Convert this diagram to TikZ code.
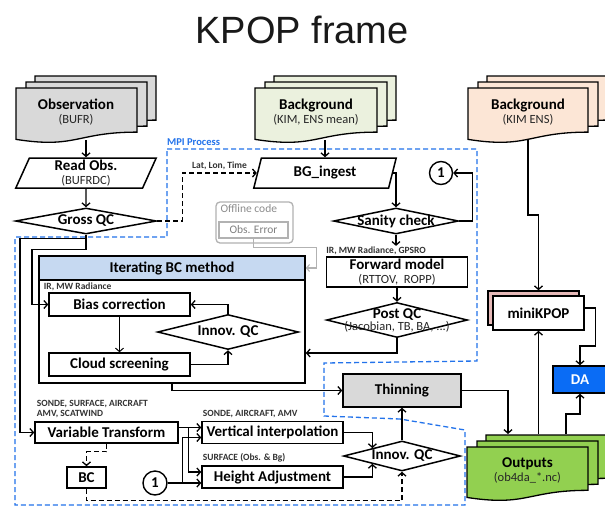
\documentclass[tikz,border=0pt]{standalone}
\usepackage{fontspec}
\setmainfont{Carlito}
\newfontfamily\titlefont{Liberation Sans}
\usetikzlibrary{shapes,arrows,arrows.meta,positioning}
\definecolor{obsgray}{RGB}{217,217,217}
\definecolor{bggreen}{RGB}{235,241,222}
\definecolor{enspeach}{RGB}{252,230,214}
\definecolor{outgreen}{RGB}{146,208,80}
\definecolor{headblue}{RGB}{198,217,241}
\definecolor{dablue}{RGB}{10,108,245}
\definecolor{mpiblue}{RGB}{35,115,235}
\definecolor{minipink}{RGB}{230,185,184}

\newcommand{\boxtxt}{\fontsize{15}{14}\selectfont\bfseries}
\newcommand{\subtxt}{\fontsize{12.5}{13}\selectfont\mdseries\color{black!85}}
\newcommand{\lbltxt}{\fontsize{9.5}{10}\selectfont\bfseries}
% stack of three file sheets: x, y, width, height, fill
\newcommand{\filestack}[5]{%
  \foreach \dx/\dy in {19/-12,10/-6,0/0}{%
    \filldraw[fill=#5,line width=1.3pt]
      ({#1+\dx},{#2+\dy}) -- ++(#3,0) -- ++(0,{0.802*#4})
      .. controls ({#1+\dx+0.5*#3},{#2+\dy+0.802*#4}) and ({#1+\dx+0.5*#3},{#2+\dy+1.107*#4}) .. ({#1+\dx},{#2+\dy+0.934*#4}) -- cycle;
  }}

\tikzset{
  box/.style={draw, line width=1.5pt, fill=white, inner sep=0pt, font=\boxtxt, align=center},
  slantbox/.style={box, trapezium, trapezium left angle=74, trapezium right angle=106, minimum height=30pt, trapezium stretches=true},
  qcdiamond/.style={draw, diamond, line width=1.5pt, fill=white, inner sep=0pt},
  numcircle/.style={draw, circle, line width=1.4pt, fill=white, minimum size=23pt, inner sep=0pt, font=\boxtxt},
  tagtxt/.style={font=\lbltxt, text=black!80, inner sep=0.5pt, align=left},
  conn/.style={line width=1.3pt, -{Straight Barb[length=3.5pt,width=8pt]}},
  dconn/.style={conn, dash pattern=on 5pt off 3pt},
  every label/.style={font=\boxtxt, align=center},
}

\begin{document}
\begin{tikzpicture}[x=1pt,y=-1pt]
\useasboundingbox[fill=white] (0,0) rectangle (605,507);
% Title
\node[font=\titlefont\fontsize{38}{40}\selectfont, text=black!90] (title) at (302,30) {KPOP frame};

% Input files
\filestack{16}{88}{121}{55}{obsgray}
\filestack{255}{88}{122}{55}{bggreen}
\filestack{468}{88}{120}{55}{enspeach}
\node[font=\boxtxt, align=center] (obs) at (76,112) {Observation\\{\subtxt (BUFR)}};
\node[font=\boxtxt, align=center] (bgfile) at (316,112) {Background\\{\subtxt (KIM, ENS mean)}};
\node[font=\boxtxt, align=center] (ensfile) at (528,112) {Background\\{\subtxt (KIM ENS)}};

% MPI region
\draw[mpiblue, line width=1.3pt, dash pattern=on 5pt off 3pt] (167,149) -- (477,149) -- (477,361) -- (324,363) -- (324,416) -- (400,419) -- (465,430) -- (465,505) -- (15,505) -- (15,237) -- (167,237) -- cycle;
\node[anchor=south west, font=\fontsize{10.5}{11}\selectfont\bfseries, text=mpiblue, inner sep=1pt] (mpilab) at (166,147) {MPI Process};

% Observation side
\node[slantbox, minimum width=141pt] (readobs) at (86,173) {Read Obs.\\{\subtxt (BUFRDC)}};
\node[qcdiamond, minimum width=141pt, minimum height=26pt, label=center:Gross QC] (grossqc) at (86,221) {};

% Background side
\node[slantbox, minimum width=143pt] (bgingest) at (325,173) {BG\_ingest};
\node[qcdiamond, minimum width=125pt, minimum height=26pt, label=center:Sanity check] (sanity) at (396,221) {};
\node[numcircle] (loopa) at (441,173) {1};
\node[box, minimum width=141pt, minimum height=30pt] (fwd) at (397,272) {Forward model\\{\subtxt (RTTOV,~~ROPP)}};
\node[tagtxt, above right=1pt and 0pt of fwd.north west] (fwdtag) {IR, MW Radiance, GPSRO};
\node[qcdiamond, minimum width=141pt, minimum height=35pt, label={center:{Post QC\\[-2pt]{\subtxt (Jacobian, TB, BA, ...)}}}] (postqc) at (397,320) {};

% Offline code
\node[draw=gray!60, rounded corners=4pt, line width=1.3pt, minimum width=77pt, minimum height=41pt] (offline) at (254.5,222.5) {};
\node[anchor=north west, inner sep=0pt, text=gray!90, font=\fontsize{11.5}{12}\selectfont] (offtxt) at ([shift={(5pt,-3pt)}]offline.north west) {Offline code};
\node[draw=gray!60, line width=1.3pt, minimum width=69pt, minimum height=16pt, inner sep=0pt, text=gray, font=\fontsize{11.5}{12}\selectfont] (obserr) at (253.5,230) {Obs. Error};

% Iterating BC block
\node[draw, line width=1.6pt, fill=white, minimum width=266pt, minimum height=127pt] (iterbox) at (172,319.5) {};
\node[draw, line width=1.6pt, fill=headblue, minimum width=266pt, minimum height=24pt, inner sep=0pt, font=\boxtxt] (iterhead) at (172,268) {Iterating BC method};
\node[tagtxt, below right=1pt and 5pt of iterhead.south west] (itertag) {IR, MW Radiance};
\node[box, minimum width=141pt, minimum height=23pt] (bias) at (119.5,304.5) {Bias correction};
\node[box, minimum width=141pt, minimum height=23pt] (cloud) at (119.5,364.5) {Cloud screening};
\node[qcdiamond, minimum width=141pt, minimum height=35pt, label=center:Innov. QC] (innova) at (228,332) {};

% Lower part
\node[box, fill=obsgray, minimum width=118pt, minimum height=33pt] (thin) at (402,390.5) {Thinning};
\node[box, minimum width=143pt, minimum height=21pt] (vartr) at (106.5,432.5) {Variable Transform};
\node[tagtxt, above right=3pt and 2pt of vartr.north west] (vartag) {SONDE, SURFACE, AIRCRAFT\\AMV, SCATWIND};
\node[box, minimum width=141pt, minimum height=22pt] (vint) at (272.5,432.5) {Vertical interpolation};
\node[tagtxt, above right=2pt and 1pt of vint.north west] (vinttag) {SONDE, AIRCRAFT, AMV};
\node[box, minimum width=141pt, minimum height=22pt] (hadj) at (272.5,477) {Height Adjustment};
\node[tagtxt, above right=2pt and 1pt of hadj.north west] (hadjtag) {SURFACE (Obs. \& Bg)};
\node[box, minimum width=39pt, minimum height=21pt] (bc) at (86.5,477.5) {BC};
\node[numcircle, minimum size=24pt] (loopb) at (155,483) {1};
\node[qcdiamond, minimum width=117pt, minimum height=30pt, label=center:Innov. QC] (innovb) at (402,456) {};

% Right column
\node[box, fill=minipink, minimum width=91pt, minimum height=34pt] (miniback) at (533.5,308) {};
\node[box, minimum width=91pt, minimum height=34pt] (mini) at (538.5,313) {miniKPOP};
\node[box, fill=dablue, text=white, minimum width=54pt, minimum height=27pt] (da) at (580,379.5) {DA};
\filestack{467}{447}{121}{54}{outgreen}
\node[font=\boxtxt, align=center] (outfile) at (527.5,470.5) {Outputs\\{\subtxt (ob4da\_*.nc)}};

% file ends
\coordinate (obsbot) at (86,140);
\coordinate (bgbot) at (325,140);
\coordinate (ensbot) at (528,140);
\coordinate (outtop) at (508,434);

% Connectors
\draw[conn] (obsbot) -- (readobs);
\draw[conn] (readobs) -- (grossqc);
\draw[dconn] (grossqc.east) -- ++(25,0) |- (bgingest) node[pos=0.75, above, yshift=2pt, tagtxt] (lltag) {Lat, Lon, Time};
\draw[conn] (bgbot) -- (bgingest);
\draw[conn] (bgingest.east) -| (sanity.north);
\draw[conn] (sanity.east) -- ++(13,0) |- (loopa);
\draw[conn] (sanity.south) -- (sanity.south |- fwdtag.north);
\draw[conn] (fwd) -- (postqc);
\draw[conn] (postqc.south) |- ([yshift=-33.5pt]iterbox.east);
\draw[gray!60, line width=1.1pt, -{Straight Barb[length=3pt,width=7pt]}] (obserr.south) -- ++(0,9) -- ++(63,0) |- (iterhead.east);
\draw[conn] (grossqc.south) -- ++(0,4) -- ++(-66,0) |- (vartr.west);
\draw[conn] (grossqc.south) -- ++(0,15) -- ++(-54,0) |- (bias.west);
\draw[conn, line width=1pt] (bias) -- (cloud);
\draw[conn] (cloud.east) -| (innova.south);
\draw[conn] (innova.north) |- (bias.east);
\draw[conn] (iterbox.south) |- (thin.west);
\draw[conn] (thin.east) -| (outtop);
\draw[conn] (innovb) -- (thin);
\draw[conn] ([yshift=5pt]vartr.east) -- ([yshift=5pt]vint.west);
\draw[conn] ([yshift=5pt]vartr.east) -- ++(10,0) |- ([yshift=5pt]hadj.west);
\draw[conn] (loopb.east) -- ([yshift=-6pt]hadj.west);
\draw[conn] (loopb.east) -- ++(15,0) |- ([yshift=-5pt]vint.west);
\draw[dconn] (vartr.south) -- ++(0,8) -| (bc.north);
\draw[dconn] (bc.south) -- ++(0,12) -| (innovb.south);
\draw[conn] (vint.east) -| (innovb.north west);
\draw[conn] (hadj.east) -| (innovb.south west);
\draw[conn] (ensbot) -- ++(0,75) -| (mini.north |- miniback.north);
\draw[conn] (mini.south |- outtop) -- (mini.south);
\draw[conn] ([xshift=58pt]outtop) -- ++(0,-20) -| (da.south);
\draw[conn] ([yshift=5pt]mini.east) -- ++(11,0) -- ++(0,38) -| (da.north);
\end{tikzpicture}
\end{document}
